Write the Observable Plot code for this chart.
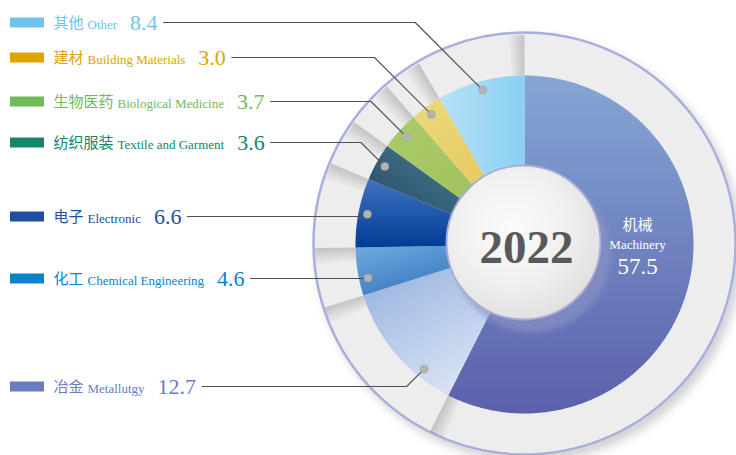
<!DOCTYPE html>
<html><head><meta charset="utf-8">
<script src="https://cdn.jsdelivr.net/npm/d3@7"></script>
<script src="https://cdn.jsdelivr.net/npm/@observablehq/plot@0.6"></script>
<style>html,body{margin:0;padding:0;background:#fff;} #chart{width:736px;height:455px;}</style>
</head><body><div id="chart"></div>
<script>
// ---- data (clockwise from 12 o'clock) ----
const categoriesZh = ["机械", "冶金", "化工", "电子", "纺织服装", "生物医药", "建材", "其他"];
const categoriesEn = ["Machinery", "Metallutgy", "Chemical Engineering", "Electronic", "Textile and Garment", "Biological Medicine", "Building Materials", "Other"];
const values = [57.5, 12.7, 4.6, 6.6, 3.6, 3.7, 3.0, 8.4];
const centerLabel = "2022";

// ---- styles / layout ----
const legendColors = ["#ffffff", "#6a7bbf", "#0b82c9", "#1e4e9f", "#12876b", "#70bb58", "#dca600", "#6dc5ef"];
const gradStops = [
  [[0, 0, 0, 1], "#85a6d5", "#5b60ab"],
  [[0.1, 0, 0.7, 1], "#97b3df", "#dae4f5"],
  [[0, 0, 0.6, 1], "#70abdf", "#3b79c0"],
  [[0, 0, 0, 1], "#3f73c0", "#003c95"],
  [[1, 0, 0, 1], "#45808f", "#2a4668"],
  [[0, 0, 1, 1], "#abca6a", "#a2c25e"],
  [[0, 0, 1, 1], "#eada7c", "#e6c860"],
  [[0, 0, 1, 0], "#b6e1f7", "#8ad0f2"]
];
const W = 736, H = 455;
const CX = 524, CY = 244, R_IN = 70, R_OUT = 169, RING_OUT = 211, HOLE = 77, DOT_R = 160;
const legendRowY = [null, 386, 278, 216, 142, 101, 57, 22];
const dotFrac = [0.5, 0.265, 0.33, 0.5, 0.5, 0.5, 0.5, 0.5];

const arcs = d3.pie().sort(null).value(d => d)(values);
const pt = (a, r) => [CX + r * Math.sin(a), CY - r * Math.cos(a)];
function wedge(a0, a1, r0, r1) {
  const n = Math.max(2, Math.ceil((a1 - a0) / (Math.PI / 360)));
  const pts = [];
  for (let i = 0; i <= n; i++) pts.push(pt(a0 + (a1 - a0) * i / n, r1));
  for (let i = n; i >= 0; i--) pts.push(pt(a0 + (a1 - a0) * i / n, r0));
  return pts;
}

// text measuring
const ctx = document.createElement("canvas").getContext("2d");
function measure(t, font) { ctx.font = font; return ctx.measureText(t).width; }
const ZH_FONT = "'Noto Sans CJK SC', sans-serif";
const SERIF = "'Liberation Serif', 'Times New Roman', serif";

const legend = [7, 6, 5, 4, 3, 2, 1].map(i => {
  const y = legendRowY[i];
  const zhX = 53;
  const enX = zhX + measure(categoriesZh[i], `15px ${ZH_FONT}`) + 4;
  const num = values[i].toFixed(1);
  const numX = enX + measure(categoriesEn[i], `13px ${SERIF}`) + 13;
  const lineX0 = numX + measure(num, `22px ${SERIF}`) + 6;
  const a = arcs[i].startAngle + dotFrac[i] * (arcs[i].endAngle - arcs[i].startAngle);
  const [dx, dy] = pt(a, DOT_R);
  const elbowX = dx - Math.abs(dy - y);
  return {i, y, zhX, enX, numX, num, color: legendColors[i],
    zh: categoriesZh[i], en: categoriesEn[i], dot: [dx, dy],
    line: [[lineX0, y], [elbowX, y], [dx, dy]]};
});

// ring divider shading at each slice boundary (counter-clockwise side)
const bandMarks = [];
arcs.forEach(s => {
  const b = s.startAngle === 0 ? 2 * Math.PI : s.startAngle;
  const step = Math.PI / 180 * 0.5;
  for (let k = 0; k < 9; k++) {
    bandMarks.push(Plot.line(wedge(b - (k + 1) * step, b - k * step, R_OUT, RING_OUT - 1.5),
      {x: d => d[0], y: d => d[1], fill: "#000", fillOpacity: 0.17 * (1 - k / 9), stroke: "none"}));
  }
});

const sliceMarks = arcs.map((s, i) =>
  Plot.line(wedge(s.startAngle, s.endAngle, R_IN, R_OUT),
    {x: d => d[0], y: d => d[1], fill: `url(#g${i})`, stroke: "none"}));

const lineData = legend.flatMap(l => l.line.map(p => ({x: p[0], y: p[1], k: l.i})));

const svg = Plot.plot({
  width: W, height: H, margin: 0,
  x: {domain: [0, W], range: [0, W], axis: null},
  y: {domain: [0, H], range: [0, H], axis: null},
  style: {background: "#fff", overflow: "visible"},
  marks: [
    Plot.dot([{x: CX, y: CY - 1}], {x: "x", y: "y", r: RING_OUT, fill: "#ededed", stroke: "#a9afdc", strokeWidth: 2.5}),
    ...bandMarks,
    ...sliceMarks,
    Plot.dot([{x: CX + 7, y: CY + 9}], {x: "x", y: "y", r: HOLE + 2, fill: "#8e95c8", fillOpacity: 0.6, stroke: "none"}),
    Plot.dot([{x: CX - 1, y: CY - 2}], {x: "x", y: "y", r: HOLE, fill: "url(#holeGrad)", stroke: "#a6abd8", strokeWidth: 2}),
    Plot.text([{x: CX + 2, y: CY + 18, t: centerLabel}], {x: "x", y: "y", text: "t", fontSize: 47, fontWeight: "bold", fontFamily: SERIF, fill: "#595959", lineAnchor: "bottom"}),
    Plot.text([{x: CX + 113, y: CY - 19, t: categoriesZh[0]}], {x: "x", y: "y", text: "t", fontSize: 15, fontFamily: ZH_FONT, fill: "#fff"}),
    Plot.text([{x: CX + 113, y: CY + 4, t: categoriesEn[0]}], {x: "x", y: "y", text: "t", fontSize: 13, fontFamily: SERIF, fill: "#fff", lineAnchor: "bottom"}),
    Plot.text([{x: CX + 113, y: CY + 29, t: values[0].toFixed(1)}], {x: "x", y: "y", text: "t", fontSize: 23, fontFamily: SERIF, fill: "#fff", lineAnchor: "bottom"}),
    Plot.line(lineData, {x: "x", y: "y", z: "k", stroke: "#505050", strokeWidth: 1.1}),
    Plot.dot(legend, {x: l => l.dot[0], y: l => l.dot[1], r: 4, fill: "#b4b4b4", stroke: "#a0a0a0", strokeWidth: 0.6}),
    Plot.rect(legend, {x1: 10, x2: 44, y1: l => l.y - 4.5, y2: l => l.y + 5.5, fill: l => l.color}),
    Plot.text(legend, {x: "zhX", y: l => l.y + 5.5, text: "zh", fill: l => l.color, fontSize: 15, fontFamily: ZH_FONT, textAnchor: "start", lineAnchor: "bottom"}),
    Plot.text(legend, {x: "enX", y: l => l.y + 6.5, text: "en", fill: l => l.color, fontSize: 13, fontFamily: SERIF, textAnchor: "start", lineAnchor: "bottom"}),
    Plot.text(legend, {x: "numX", y: l => l.y + 7, text: "num", fill: l => l.color, fontSize: 22, fontFamily: SERIF, textAnchor: "start", lineAnchor: "bottom"})
  ]
});

// gradients & filters
const NS = "http://www.w3.org/2000/svg";
const defs = document.createElementNS(NS, "defs");
defs.innerHTML = gradStops.map(([c, s0, s1], i) =>
  `<linearGradient id="g${i}" x1="${c[0]}" y1="${c[1]}" x2="${c[2]}" y2="${c[3]}"><stop offset="0" stop-color="${s0}"/><stop offset="1" stop-color="${s1}"/></linearGradient>`).join("") +
  `<radialGradient id="holeGrad" cx="0.42" cy="0.4" r="0.62"><stop offset="0" stop-color="#fbfbfb"/><stop offset="0.6" stop-color="#f0f0f0"/><stop offset="1" stop-color="#e0e0e0"/></radialGradient>
   <filter id="ringShadow" x="-20%" y="-20%" width="140%" height="140%"><feDropShadow dx="5" dy="6" stdDeviation="5" flood-color="#000" flood-opacity="0.18"/></filter>
   <filter id="blur" x="-20%" y="-20%" width="140%" height="140%"><feGaussianBlur stdDeviation="2.5"/></filter>`;
svg.insertBefore(defs, svg.firstChild);
svg.querySelectorAll("g").forEach(g => {
  const f = g.getAttribute("fill");
  if (f === "#ededed") g.setAttribute("filter", "url(#ringShadow)");
  if (f === "#8e95c8") g.setAttribute("filter", "url(#blur)");
});
document.getElementById("chart").appendChild(svg);
</script>
</body></html>
